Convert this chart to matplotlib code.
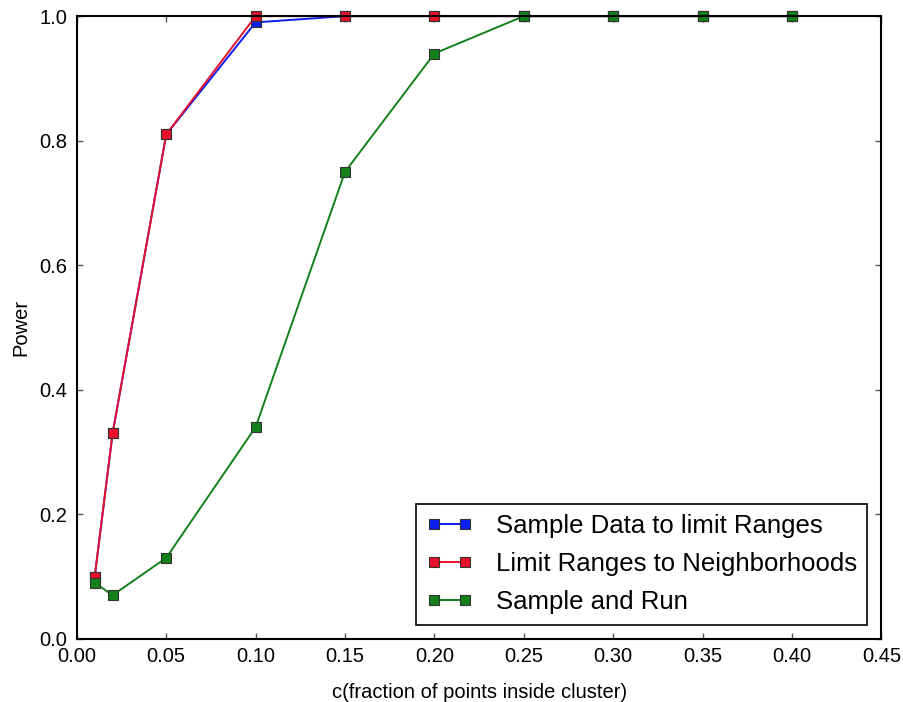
"""Power vs cluster fraction for the three range-limiting strategies."""
import matplotlib
matplotlib.use('Agg')
import matplotlib.pyplot as plt

plt.rcParams['font.family'] = ['Liberation Sans', 'DejaVu Sans']

c_frac = [0.01, 0.02, 0.05, 0.10, 0.15, 0.20, 0.25, 0.30, 0.35, 0.40]
power_sample_limit = [0.10, 0.33, 0.81, 0.99, 1.0, 1.0, 1.0, 1.0, 1.0, 1.0]
power_neighborhoods = [0.10, 0.33, 0.81, 1.0, 1.0, 1.0, 1.0, 1.0, 1.0, 1.0]
power_sample_run = [0.09, 0.07, 0.13, 0.34, 0.75, 0.94, 1.0, 1.0, 1.0, 1.0]

x_ticks = [0.00, 0.05, 0.10, 0.15, 0.20, 0.25, 0.30, 0.35, 0.40, 0.45]
y_ticks = [0.0, 0.2, 0.4, 0.6, 0.8, 1.0]

SERIES = [
    (power_sample_limit, '#0a1ef0', 'Sample Data to limit Ranges'),
    (power_neighborhoods, '#e8102a', 'Limit Ranges to Neighborhoods'),
    (power_sample_run, '#13801a', 'Sample and Run'),
]

fig = plt.figure(figsize=(9.04, 7.02), dpi=100)
ax = fig.add_axes([0.085, 0.09, 0.89, 0.887])

for vals, color, label in SERIES:
    ax.plot(c_frac, vals, color=color, lw=1.4, marker='s', ms=7.5,
            mfc=color, mec='#333333', mew=0.8, label=label, clip_on=False)

ax.set_xlim(0, 0.45)
ax.set_ylim(0, 1.0)
ax.set_xticks(x_ticks)
ax.set_yticks(y_ticks)
ax.set_xticklabels([f'{t:.2f}' for t in x_ticks])
ax.set_yticklabels([f'{t:.1f}' for t in y_ticks])
ax.tick_params(direction='in', top=True, right=True, length=4.5, width=1,
               color='#555555', labelsize=14.5)
ax.tick_params(axis='x', pad=6)
ax.tick_params(axis='y', pad=7)
for sp in ax.spines.values():
    sp.set_linewidth(1.5)

ax.set_xlabel('c(fraction of points inside cluster)', fontsize=14.5, labelpad=12)
ax.set_ylabel('Power', fontsize=14.5, labelpad=6)

leg = ax.legend(loc='lower right', fontsize=18.5, fancybox=False,
                edgecolor='black', framealpha=1, numpoints=2,
                handlelength=1.8, borderpad=0.4, labelspacing=0.55,
                handletextpad=0.9, borderaxespad=0.55)
leg.get_frame().set_linewidth(1.2)

fig.savefig('out.png', dpi=100)
